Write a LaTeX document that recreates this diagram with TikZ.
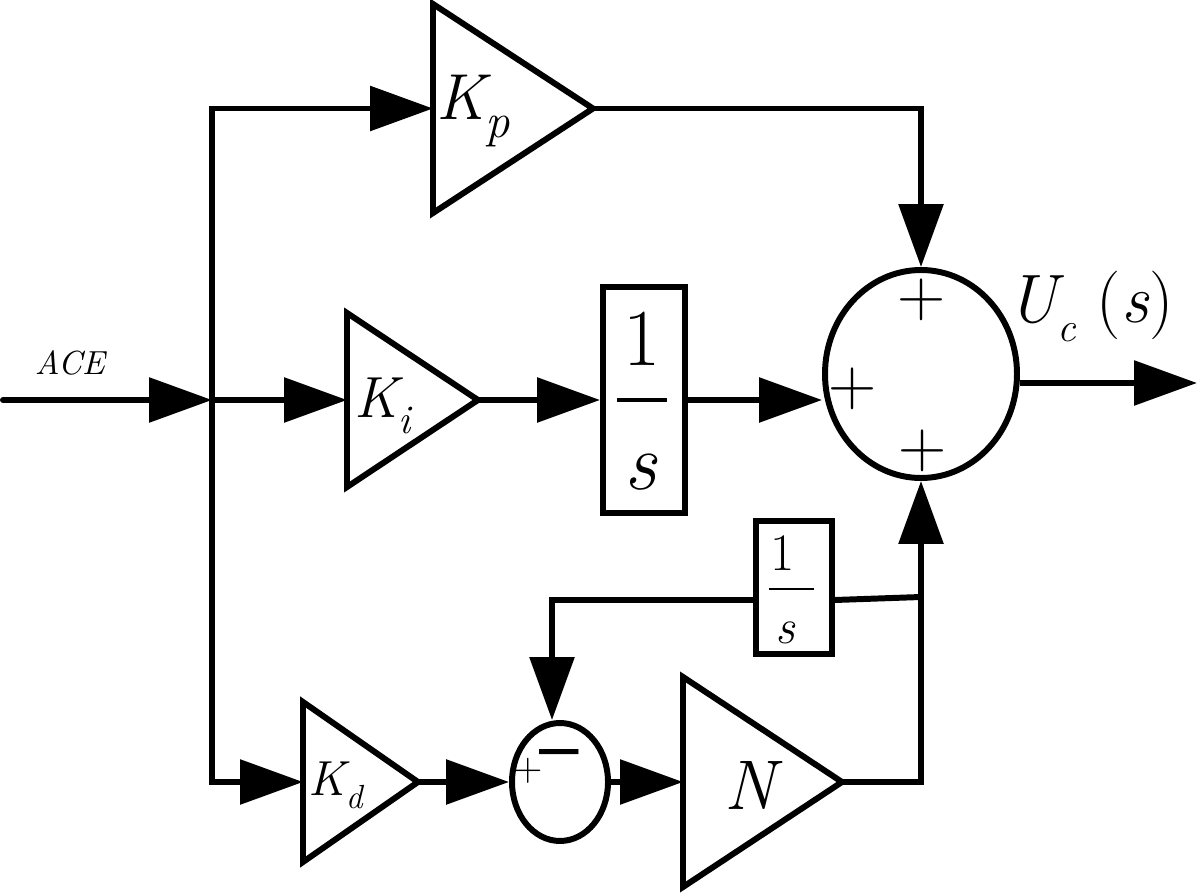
\documentclass[tikz,border=0pt]{standalone}
\usepackage{graphicx}
\usetikzlibrary{arrows.meta,shapes.geometric}

\tikzset{
	sig/.style={-{Triangle[length=6.3mm,width=4.4mm]}},
	sumnode/.style={draw,ellipse,inner sep=0pt},
	fracbox/.style={draw,rectangle,inner sep=0pt},
	sgn/.style={inner sep=0pt}
}
\newcommand{\gainlab}[3][.75]{{\itshape #2}\raisebox{-.27em}{\scalebox{#1}{\itshape #3}}}
\newcommand{\fs}[1]{\fontsize{#1}{#1}\selectfont}

\begin{document}
\begin{tikzpicture}[line width=1.7pt]
	\useasboundingbox (0,0) rectangle (12,-8.95);

	\draw (4.33,-0.04) -- (4.33,-2.13) -- (5.93,-1.085) -- cycle;
	\coordinate (kpin) at (4.33,-1.085);
	\coordinate (kpout) at (5.93,-1.085);
	\node[anchor=base west, inner sep=0pt] (kplab) at (4.34,-1.20) {\fs{18.5}\gainlab{K}{p}};

	\draw (3.47,-3.13) -- (3.47,-4.87) -- (4.78,-4.00) -- cycle;
	\coordinate (kiin) at (3.47,-4.00);
	\coordinate (kiout) at (4.78,-4.00);
	\node[anchor=base west, inner sep=0pt] (kilab) at (3.52,-4.18) {\fs{16.5}\gainlab[.7]{K}{i}};

	\draw (3.03,-7.02) -- (3.03,-8.62) -- (4.18,-7.82) -- cycle;
	\coordinate (kdin) at (3.03,-7.82);
	\coordinate (kdout) at (4.18,-7.82);
	\node[anchor=base west, inner sep=0pt] (kdlab) at (3.06,-7.95) {\fs{14}\gainlab[.68]{K}{d}};

	\draw (6.83,-6.77) -- (6.83,-8.87) -- (8.42,-7.82) -- cycle;
	\coordinate (nin) at (6.83,-7.82);
	\coordinate (nout) at (8.42,-7.82);
	\node[anchor=base, inner sep=0pt] (nlab) at (7.50,-8.10) {\fs{20}\itshape N};

	\node[fracbox, minimum width=0.82cm, minimum height=2.26cm] (intbox) at (6.44,-4.00) {};
	\node[sgn] (intone) at (6.425,-3.385) {\fs{23}1};
	\draw[line width=1pt] (6.17,-4.00) -- (6.67,-4.00);
	\node[sgn] (ints) at (6.41,-4.725) {\fs{23}\itshape s};

	\node[fracbox, minimum width=0.76cm, minimum height=1.33cm] (fbbox) at (7.94,-5.875) {};
	\node[sgn] (fbone) at (7.83,-5.535) {\fs{15}1};
	\draw[line width=0.8pt] (7.69,-5.89) -- (8.14,-5.89);
	\node[sgn] (fbs) at (7.85,-6.325) {\fs{14}\itshape s};

	\node[sumnode, minimum width=1.92cm, minimum height=2.08cm] (sum) at (9.21,-3.74) {};
	\node[sgn] (plustop) at (9.22,-3.00) {\fs{19}+};
	\node[sgn] (plusleft) at (8.53,-3.89) {\fs{19}+};
	\node[sgn] (plusbot) at (9.23,-4.51) {\fs{19}+};

	\node[sumnode, minimum width=0.96cm, minimum height=1.18cm] (sm) at (5.60,-7.82) {};
	\node[sgn] (smplus) at (5.28,-7.71) {\fs{11}+};
	\node[sgn, anchor=base] (smminus) at (5.595,-7.94) {\fs{20}\bfseries\scalebox{1}[2.2]{--}};

	\coordinate (acein) at (0.03,-4.00);
	\coordinate (junc) at (2.12,-4.00);
	\coordinate (ucout) at (11.97,-3.83);
	\coordinate (fbjoin) at (9.21,-5.97);
	\node[anchor=base west, inner sep=0pt] (acelab) at (0.32,-3.75) {\fs{9.5}\itshape ACE};
	\node[anchor=base west, inner sep=0pt] (uclab) at (10.05,-3.23) {\fs{19.5}\gainlab[.6]{U}{c}\hspace{.3em}(\textit{s})};

	\draw[sig, line cap=round] (acein) -- (junc);
	\draw[sig] (junc) |- (kpin);
	\draw[sig] (junc) -- (kiin);
	\draw[sig] (junc) |- (kdin);

	\draw[sig] (kpout) -| (sum.north);
	\draw[sig] (kiout) -- (intbox.west);
	\draw[sig] (intbox.east) -- (intbox.east -| sum.west);
	\draw[sig] (sum.east |- ucout) -- (ucout);

	\draw[sig] (kdout) -- (sm.west);
	\draw[sig] (sm.east) -- (nin);
	\draw[sig] (nout) -| (sum.south);
	\draw (fbjoin) -- ([yshift=-1.25mm]fbbox.east);
	\draw[sig] ([yshift=-1.25mm]fbbox.west) -| ([xshift=-0.8mm]sm.north);
\end{tikzpicture}
\end{document}
